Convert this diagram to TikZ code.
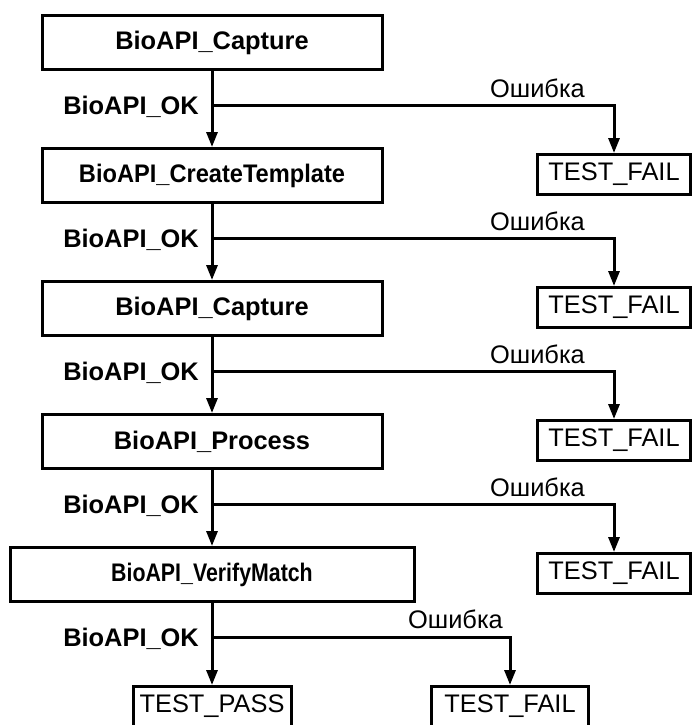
\documentclass[tikz,border=0pt]{standalone}
\usepackage{fontspec}
\setmainfont{Liberation Sans}
\usepackage{graphicx}
\usetikzlibrary{positioning, arrows.meta}

\begin{document}
\begin{tikzpicture}[x=1pt, y=1pt,
	font=\fontsize{25.4}{30}\selectfont,
	call/.style={draw, line width=3pt, minimum width=340pt, minimum height=54pt, inner sep=0pt, font=\fontsize{25.4}{30}\selectfont\bfseries},
	result/.style={draw, line width=3pt, minimum width=153pt, minimum height=40pt, inner sep=0pt},
	flow/.style={line width=3pt, -{Triangle[length=15pt, width=11pt]}},
	ok/.style={inner sep=0pt, anchor=base east, font=\fontsize{25.4}{30}\selectfont\bfseries},
	err/.style={inner sep=0pt},
	node distance=76pt]
	\useasboundingbox (0,0) rectangle (692,-725);
	\clip (0,0) rectangle (692,-725);
	
	\node[call] (cap1) at (212,-42.5) {BioAPI\_Capture};
	\node[call, below=of cap1] (create) {\scalebox{0.93}[1]{BioAPI\_CreateTemplate}};
	\node[call, below=of create] (cap2) {BioAPI\_Capture};
	\node[call, below=of cap2] (proc) {BioAPI\_Process};
	\node[call, below=of proc, minimum width=404pt] (verify) {\scalebox{0.84}[1]{BioAPI\_VerifyMatch}};
	
	\coordinate[below=34pt of cap1] (ok1);
	\coordinate[below=34pt of create] (ok2);
	\coordinate[below=34pt of cap2] (ok3);
	\coordinate[below=34pt of proc] (ok4);
	\coordinate[below=34pt of verify] (ok5);
	
	\coordinate[right=402pt of ok1] (e1);
	\coordinate[right=402pt of ok2] (e2);
	\coordinate[right=402pt of ok3] (e3);
	\coordinate[right=402pt of ok4] (e4);
	\coordinate[right=298pt of ok5] (e5);
	
	\node[result, below=48pt of e1] (fail1) {TEST\_FAIL};
	\node[result, below=48pt of e2] (fail2) {TEST\_FAIL};
	\node[result, below=48pt of e3] (fail3) {TEST\_FAIL};
	\node[result, below=48pt of e4] (fail4) {TEST\_FAIL};
	\node[result, below=48pt of e5, minimum width=157pt] (fail5) {TEST\_FAIL};
	\node[result, below=48pt of ok5, minimum width=158pt] (pass) {TEST\_PASS};
	
	\node[ok] at ([shift={(-13pt,-9pt)}]ok1) {BioAPI\_OK};
	\node[ok] at ([shift={(-13pt,-9pt)}]ok2) {BioAPI\_OK};
	\node[ok] at ([shift={(-13pt,-9pt)}]ok3) {BioAPI\_OK};
	\node[ok] at ([shift={(-13pt,-9pt)}]ok4) {BioAPI\_OK};
	\node[ok] at ([shift={(-13pt,-9pt)}]ok5) {BioAPI\_OK};
	
	\node[err, above left=7pt and 29pt of e1] {Ошибка};
	\node[err, above left=7pt and 29pt of e2] {Ошибка};
	\node[err, above left=7pt and 29pt of e3] {Ошибка};
	\node[err, above left=7pt and 29pt of e4] {Ошибка};
	\node[err, above left=8pt and 7pt of e5] {Ошибка};
	
	\draw[flow] (cap1) -- (create);
	\draw[flow] (create) -- (cap2);
	\draw[flow] (cap2) -- (proc);
	\draw[flow] (proc) -- (verify);
	\draw[flow] (verify) -- (pass);
	
	\draw[flow] (ok1) -- (e1) -- (fail1);
	\draw[flow] (ok2) -- (e2) -- (fail2);
	\draw[flow] (ok3) -- (e3) -- (fail3);
	\draw[flow] (ok4) -- (e4) -- (fail4);
	\draw[flow] (ok5) -- (e5) -- (fail5);
\end{tikzpicture}
\end{document}
